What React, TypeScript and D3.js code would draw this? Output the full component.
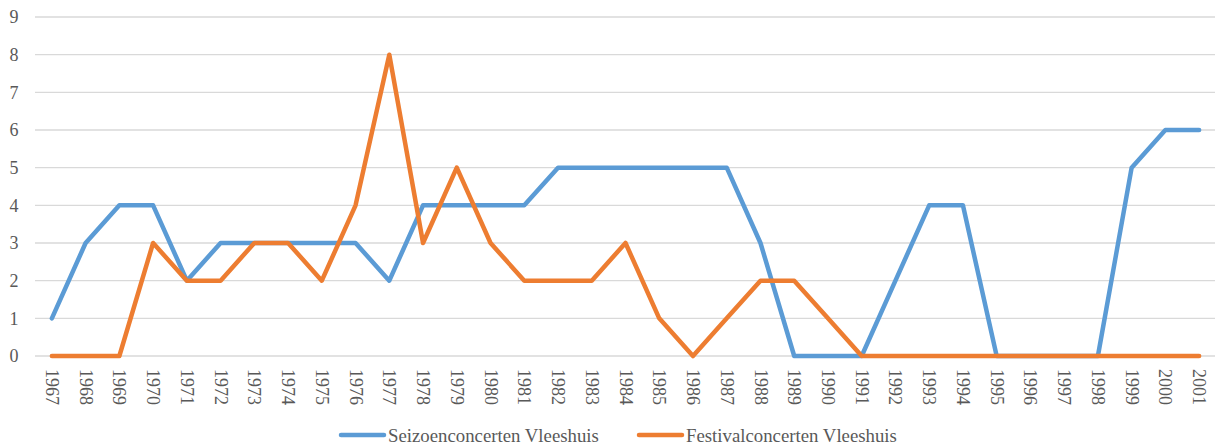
import React, { useEffect, useRef } from "react";
import * as d3 from "d3";

const years = [
  "1967", "1968", "1969", "1970", "1971", "1972", "1973", "1974", "1975", "1976",
  "1977", "1978", "1979", "1980", "1981", "1982", "1983", "1984", "1985", "1986",
  "1987", "1988", "1989", "1990", "1991", "1992", "1993", "1994", "1995", "1996",
  "1997", "1998", "1999", "2000", "2001",
];

const seizoen = [
  1, 3, 4, 4, 2, 3, 3, 3, 3, 3,
  2, 4, 4, 4, 4, 5, 5, 5, 5, 5,
  5, 3, 0, 0, 0, 2, 4, 4, 0, 0,
  0, 0, 5, 6, 6,
];

const festival = [
  0, 0, 0, 3, 2, 2, 3, 3, 2, 4,
  8, 3, 5, 3, 2, 2, 2, 3, 1, 0,
  1, 2, 2, 1, 0, 0, 0, 0, 0, 0,
  0, 0, 0, 0, 0,
];

const seriesNames = ["Seizoenconcerten Vleeshuis", "Festivalconcerten Vleeshuis"];
const seriesColors = ["#5b9bd5", "#ed7d31"];
const yTicks = [0, 1, 2, 3, 4, 5, 6, 7, 8, 9];

const W = 1215;
const H = 447;
const FONT = "'Liberation Serif', 'Times New Roman', serif";

const App = () => {
  const svgRef = useRef<SVGSVGElement>(null);

  useEffect(() => {
    const svg = d3.select(svgRef.current);
    svg.selectAll("*").remove();

    const x = d3.scaleBand().domain(years).range([35, 1216]);
    const y = d3.scaleLinear().domain([0, 9]).range([356, 17]);
    const cx = (d: string) => (x(d) as number) + x.bandwidth() / 2;

    // gridlines
    svg.append("g")
      .selectAll("line")
      .data(yTicks)
      .enter()
      .append("line")
      .attr("x1", 35)
      .attr("x2", 1215)
      .attr("y1", d => y(d))
      .attr("y2", d => y(d))
      .attr("stroke", "#d9d9d9")
      .attr("stroke-width", 1.3);

    // y labels
    svg.append("g")
      .selectAll("text")
      .data(yTicks)
      .enter()
      .append("text")
      .attr("x", 14)
      .attr("y", d => y(d))
      .attr("dy", "0.35em")
      .attr("text-anchor", "middle")
      .attr("font-family", FONT)
      .attr("font-size", 18)
      .attr("fill", "#595959")
      .text(d => d);

    // x labels, rotated
    svg.append("g")
      .selectAll("text")
      .data(years)
      .enter()
      .append("text")
      .attr("transform", d => `translate(${cx(d)},369) rotate(90)`)
      .attr("dy", "0.33em")
      .attr("text-anchor", "start")
      .attr("font-family", FONT)
      .attr("font-size", 18)
      .attr("fill", "#595959")
      .text(d => d);

    const line = d3.line<number>()
      .x((_, i) => cx(years[i]))
      .y(d => y(d));

    [seizoen, festival].forEach((vals, i) => {
      svg.append("path")
        .datum(vals)
        .attr("d", line)
        .attr("fill", "none")
        .attr("stroke", seriesColors[i])
        .attr("stroke-width", 4.5)
        .attr("stroke-linejoin", "round")
        .attr("stroke-linecap", "round");
    });

    // legend
    const legendX = [341, 639];
    seriesNames.forEach((name, i) => {
      const g = svg.append("g").attr("transform", `translate(${legendX[i]},435)`);
      g.append("line")
        .attr("x1", 0)
        .attr("x2", 43)
        .attr("stroke", seriesColors[i])
        .attr("stroke-width", 4.5)
        .attr("stroke-linecap", "round");
      g.append("text")
        .attr("x", 47)
        .attr("y", 0)
        .attr("dy", "0.35em")
        .attr("font-family", FONT)
        .attr("font-size", 18.8)
        .attr("fill", "#595959")
        .text(name);
    });
  }, []);

  return (
    <div style={{ position: "absolute", left: 0, top: 0 }}>
      <svg ref={svgRef} width={W} height={H} style={{ display: "block", background: "#fff" }}></svg>
    </div>
  );
};

export default App;
